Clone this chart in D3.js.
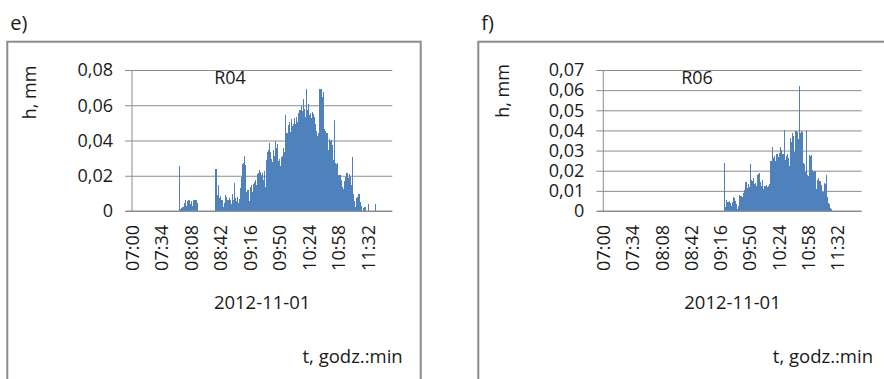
<!DOCTYPE html>
<html>
<head>
<meta charset="utf-8">
<script src="https://cdn.jsdelivr.net/npm/d3@7"></script>
<style>
  body { margin: 0; background: #fff; }
  text { font-family: "Open Sans", sans-serif; fill: #1a1a1a; }
</style>
</head>
<body>
<script>
// minute categories 07:00 .. 11:59, a label every 34 minutes
var startTime = "07:00";
var nMinutes = 300;
var tickLabels = ["07:00", "07:34", "08:08", "08:42", "09:16", "09:50", "10:24", "10:58", "11:32"];
var dateLabel = "2012-11-01";

// R04 - depth per minute, first value at 07:54
var r04Start = "07:54";
var r04 = [
  0.0255, 0.001, 0.0015, 0.001, 0.002, 0.001, 0.0045, 0.006, 0.003, 0.0055,
  0.006, 0.0035, 0.006, 0.004, 0.0055, 0.003, 0.006, 0.0045, 0.0065, 0.005,
  0.006, 0.0045, 0, 0, 0, 0, 0, 0, 0, 0,
  0, 0, 0, 0, 0, 0, 0, 0, 0, 0,
  0, 0, 0.024, 0.0085, 0.009, 0.0145, 0.0075, 0.0085, 0.005, 0.0065,
  0.003, 0.0025, 0.0045, 0.009, 0.008, 0.0035, 0.0065, 0.005, 0.0075, 0.0065,
  0.004, 0.0095, 0.006, 0.016, 0.0075, 0.006, 0.0055, 0.008, 0.0045, 0.007,
  0.0105, 0.013, 0.0195, 0.0265, 0.027, 0.031, 0.026, 0.011, 0.0095, 0.012,
  0.006, 0.0055, 0.0135, 0.0145, 0.011, 0.0155, 0.0095, 0.0165, 0.0175, 0.0145,
  0.021, 0.0215, 0.0235, 0.022, 0.0205, 0.019, 0.0215, 0.0175, 0.0225, 0.0135,
  0.0185, 0.029, 0.0335, 0.0345, 0.0385, 0.0335, 0.0295, 0.028, 0.0345, 0.0295,
  0.031, 0.0395, 0.0355, 0.038, 0.0285, 0.0295, 0.0255, 0.023, 0.0305, 0.031,
  0.0355, 0.0335, 0.0545, 0.0415, 0.0445, 0.0425, 0.049, 0.0505, 0.045, 0.052,
  0.048, 0.0495, 0.0465, 0.0525, 0.0495, 0.0535, 0.0505, 0.0555, 0.0515, 0.0575,
  0.0545, 0.0595, 0.0565, 0.0635, 0.058, 0.0535, 0.0695, 0.0575, 0.0555, 0.0605,
  0.0545, 0.0555, 0.0525, 0.056, 0.055, 0.0535, 0.0505, 0.0495, 0.0455, 0.0425,
  0.0445, 0.0605, 0.0695, 0.0665, 0.0695, 0.0645, 0.0675, 0.0465, 0.0455, 0.0415,
  0.044, 0.0355, 0.0345, 0.041, 0.0395, 0.0405, 0.0375, 0.029, 0.0265, 0.0515,
  0.027, 0.0265, 0.0275, 0.0205, 0.019, 0.0205, 0.0165, 0.0175, 0.0135, 0.0125,
  0.017, 0.0135, 0.0195, 0.0215, 0.0205, 0.0185, 0.021, 0.0195, 0.015, 0.0305,
  0.0095, 0.0085, 0.0055, 0.002, 0.0075, 0.008, 0.0015, 0.0095, 0.0025, 0.005,
  0.003, 0, 0.0015, 0.0025, 0.002, 0, 0, 0, 0.004, 0,
  0, 0, 0, 0, 0, 0, 0.004
];

// R06 - depth per minute, first value at 09:20
var r06Start = "09:20";
var r06 = [
  0.0237, 0.002, 0.0055, 0.003, 0.0045, 0.0025, 0.005, 0.004, 0.0025, 0.0045,
  0.007, 0.0035, 0.0065, 0.005, 0.0035, 0.001, 0.0025, 0.008, 0.0075, 0.006,
  0.0075, 0.007, 0.009, 0.0105, 0.011, 0.0145, 0.009, 0.0115, 0.0135, 0.012,
  0.0233, 0.0155, 0.014, 0.015, 0.0165, 0.0135, 0.014, 0.0125, 0.018, 0.0175,
  0.0185, 0.019, 0.0145, 0.0125, 0.0155, 0.011, 0.0105, 0.0125, 0.0115, 0.013,
  0.012, 0.0125, 0.0135, 0.0225, 0.025, 0.0205, 0.032, 0.0265, 0.0275, 0.025,
  0.0265, 0.0285, 0.026, 0.027, 0.029, 0.032, 0.0305, 0.027, 0.0285, 0.0265,
  0.04, 0.0255, 0.0275, 0.0285, 0.0265, 0.0215, 0.0225, 0.036, 0.0345, 0.0385,
  0.037, 0.0295, 0.0305, 0.0395, 0.038, 0.039, 0.0355, 0.062, 0.0385, 0.0395,
  0.039, 0.022, 0.024, 0.0235, 0.0195, 0.04, 0.018, 0.0175, 0.011, 0.028,
  0.0275, 0.028, 0.0205, 0.013, 0.0195, 0.02, 0.0105, 0.011, 0.0155, 0.0165,
  0.0135, 0.015, 0.0125, 0.013, 0.0095, 0.0095, 0.014, 0.0135, 0.018, 0.0065,
  0.007, 0.004, 0.0035, 0.0015, 0.001
];

var r04Ticks = [0, 0.02, 0.04, 0.06, 0.08];
var r06Ticks = [0, 0.01, 0.02, 0.03, 0.04, 0.05, 0.06, 0.07];

var w = 884;
var h = 379;
var barColor = "#4f81bd";
var gridColor = "#8c8c8c";

var parseHM = d3.timeParse("%H:%M");
var fmtHM = d3.timeFormat("%H:%M");
var t0 = parseHM(startTime);
var minutes = d3.range(nMinutes).map(function (i) {
  return fmtHM(d3.timeMinute.offset(t0, i));
});

var plLocale = d3.formatLocale({ decimal: ",", thousands: " ", grouping: [3], currency: ["", " zł"] });
var fmtY = plLocale.format("~g");

function toSeries(start, values) {
  var first = minutes.indexOf(start);
  return values.map(function (v, i) {
    return { t: minutes[first + i], v: v };
  });
}

var svg = d3.select("body")
  .append("svg")
  .attr("width", w)
  .attr("height", h);

function panel(cfg) {
  var g = svg.append("g");

  // outer frame
  g.append("rect")
    .attr("x", cfg.frameX)
    .attr("y", 41.7)
    .attr("width", cfg.frameW)
    .attr("height", 420)
    .attr("fill", "none")
    .attr("stroke", gridColor)
    .attr("stroke-width", 2);

  g.append("text")
    .attr("x", cfg.frameX + 3)
    .attr("y", 30)
    .style("font-size", "20px")
    .text(cfg.letter);

  var x = d3.scaleBand()
    .domain(minutes)
    .range([cfg.x0, cfg.x1])
    .padding(0);

  var y = d3.scaleLinear()
    .domain([0, cfg.ticks[cfg.ticks.length - 1]])
    .range([211, 70]);

  // gridlines with outside tick marks
  g.append("g")
    .attr("transform", "translate(" + cfg.x1 + ",0)")
    .call(d3.axisLeft(y)
      .tickValues(cfg.ticks)
      .tickSize(cfg.x1 - cfg.x0 + 7)
      .tickFormat(""))
    .call(function (a) {
      a.select(".domain").remove();
      a.selectAll("line").attr("stroke", gridColor);
    });

  g.selectAll(".ylab")
    .data(cfg.ticks)
    .enter()
    .append("text")
    .attr("x", cfg.x0 - 19)
    .attr("y", function (d) { return y(d); })
    .attr("dy", "0.35em")
    .attr("text-anchor", "end")
    .style("font-size", "18px")
    .text(function (d) { return fmtY(d); });

  // bars (slightly widened so neighbours join without hairline gaps)
  g.selectAll(".bar")
    .data(cfg.series.filter(function (d) { return d.v > 0; }))
    .enter()
    .append("rect")
    .attr("x", function (d) { return x(d.t); })
    .attr("y", function (d) { return y(d.v); })
    .attr("width", x.bandwidth() + 0.35)
    .attr("height", function (d) { return y(0) - y(d.v); })
    .attr("fill", barColor)
    .attr("shape-rendering", "crispEdges");

  // axis lines
  g.append("line")
    .attr("x1", cfg.x0 - 6).attr("x2", cfg.x1)
    .attr("y1", 211).attr("y2", 211)
    .attr("stroke", gridColor);
  g.append("line")
    .attr("x1", cfg.x0).attr("x2", cfg.x0)
    .attr("y1", 70).attr("y2", 211)
    .attr("stroke", gridColor);

  // rotated time labels
  g.selectAll(".xlab")
    .data(tickLabels)
    .enter()
    .append("text")
    .attr("transform", function (d) {
      return "translate(" + (x(d) + x.bandwidth() / 2) + ",225) rotate(-90)";
    })
    .attr("dy", "0.35em")
    .attr("text-anchor", "end")
    .style("font-size", "18px")
    .text(function (d) { return d; });

  g.append("text")
    .attr("transform", "translate(" + cfg.yTitleX + "," + cfg.yTitleY + ") rotate(-90)")
    .attr("text-anchor", "middle")
    .style("font-size", "18px")
    .text("h, mm");

  g.append("text")
    .attr("x", cfg.nameX)
    .attr("y", 84)
    .attr("text-anchor", "middle")
    .style("font-size", "18px")
    .text(cfg.name);

  g.append("text")
    .attr("x", (cfg.x0 + cfg.x1) / 2)
    .attr("y", 309)
    .attr("text-anchor", "middle")
    .style("font-size", "18.5px")
    .text(dateLabel);

  g.append("text")
    .attr("x", cfg.unitX)
    .attr("y", 363)
    .attr("text-anchor", "end")
    .style("font-size", "18.5px")
    .text("t, godz.:min");
}

panel({
  letter: "e)", name: "R04", series: toSeries(r04Start, r04), ticks: r04Ticks,
  frameX: 7.3, frameW: 413.4, x0: 132, x1: 392.3,
  yTitleX: 36, yTitleY: 92.5, nameX: 230, unitX: 402.7
});

panel({
  letter: "f)", name: "R06", series: toSeries(r06Start, r06), ticks: r06Ticks,
  frameX: 478.3, frameW: 420, x0: 603.3, x1: 861.7,
  yTitleX: 509, yTitleY: 91, nameX: 697, unitX: 873
});
</script>
</body>
</html>
